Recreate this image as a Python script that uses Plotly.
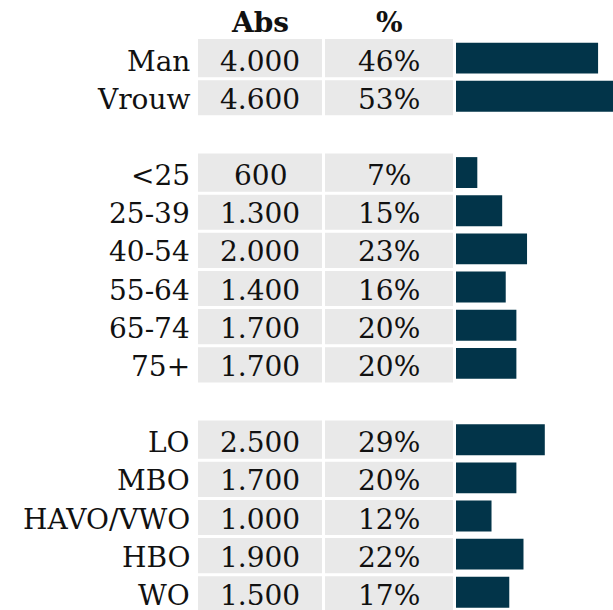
import plotly.graph_objects as go

# --- data -------------------------------------------------------------
gender_labels = ["Man", "Vrouw"]
gender_abs = [4000, 4600]
gender_pct = [46, 53]

age_labels = ["<25", "25-39", "40-54", "55-64", "65-74", "75+"]
age_abs = [600, 1300, 2000, 1400, 1700, 1700]
age_pct = [7, 15, 23, 16, 20, 20]

edu_labels = ["LO", "MBO", "HAVO/VWO", "HBO", "WO"]
edu_abs = [2500, 1700, 1000, 1900, 1500]
edu_pct = [29, 20, 12, 22, 17]

column_titles = ["Abs", "%"]

# --- layout constants -------------------------------------------------
W, H = 613, 610
TOP = 39               # header band above the first row
ROW_PX = 38.16         # height of one row slot
GAP = 3 / ROW_PX       # white line between cells of a group
FONT = "DejaVu Serif"
FSIZE = 28
GREY = "#e9e9e9"
NAVY = "#023449"
TEXT = "#111111"

label_right = 192 / W
abs_dom = [198 / W, 322 / W]
pct_dom = [325 / W, 453 / W]
bar_dom = [456 / W, 1.0]
bar_max = 4420

# --- build rows: one slot per category, one empty slot between groups ---
groups = [
    (gender_labels, gender_abs, gender_pct),
    (age_labels, age_abs, age_pct),
    (edu_labels, edu_abs, edu_pct),
]
ys, labels, abs_vals, pct_vals, offsets, widths = [], [], [], [], [], []
slot = 0
for g_labels, g_abs, g_pct in groups:
    for i, (lab, a, p) in enumerate(zip(g_labels, g_abs, g_pct)):
        ys.append(slot)
        labels.append(lab)
        abs_vals.append(a)
        pct_vals.append(p)
        top_gap = 0 if i == 0 else GAP
        offsets.append(-0.5 + top_gap)
        widths.append(1 - top_gap)
        slot += 1
    slot += 1

plot_h = H - TOP
y_bottom = -0.5 + plot_h / ROW_PX


def fmt_abs(v):
    return f"{v:,}".replace(",", ".")


fig = go.Figure()

# grey cell backgrounds for the two value columns
for xa in ("x", "x2"):
    fig.add_trace(go.Bar(
        orientation="h", y=ys, x=[1] * len(ys), xaxis=xa, yaxis="y",
        marker=dict(color=GREY, line=dict(width=0)),
        offset=offsets, width=widths, hoverinfo="skip", showlegend=False,
    ))

# horizontal bars
fig.add_trace(go.Bar(
    orientation="h", y=ys, x=abs_vals, xaxis="x3", yaxis="y",
    marker=dict(color=NAVY, line=dict(width=0)),
    width=0.81, hoverinfo="skip", showlegend=False,
))

annotations = []
font = dict(family=FONT, size=FSIZE, color=TEXT)
abs_c = sum(abs_dom) / 2
pct_c = sum(pct_dom) / 2
YSHIFT = -3

for y, lab, a, p in zip(ys, labels, abs_vals, pct_vals):
    annotations.append(dict(x=label_right, y=y, xref="paper", yref="y",
                            text=lab, xanchor="right", yanchor="middle",
                            showarrow=False, font=font, yshift=YSHIFT))
    annotations.append(dict(x=abs_c, y=y, xref="paper", yref="y",
                            text=fmt_abs(a), xanchor="center", yanchor="middle",
                            showarrow=False, font=font, yshift=YSHIFT))
    annotations.append(dict(x=pct_c, y=y, xref="paper", yref="y",
                            text=f"{p}%", xanchor="center", yanchor="middle",
                            showarrow=False, font=font, yshift=YSHIFT))

# column headers sit one row-slot above the first row, in the top margin
header_y = 1 + (ROW_PX - 0.5 * ROW_PX + (TOP - ROW_PX * 0.5 - 0.1)) / plot_h
header_y = 1 + (TOP - (TOP + 0.5 * ROW_PX - ROW_PX)) / plot_h
for title, cx in zip(column_titles, (abs_c, pct_c)):
    annotations.append(dict(x=cx, y=header_y, xref="paper", yref="paper",
                            text=f"<b>{title}</b>", xanchor="center",
                            yanchor="middle", showarrow=False, font=font,
                            yshift=YSHIFT))

hidden = dict(showgrid=False, zeroline=False, showticklabels=False,
              showline=False, ticks="", fixedrange=True)

fig.update_layout(
    width=W, height=H,
    margin=dict(l=0, r=0, t=TOP, b=0, pad=0),
    paper_bgcolor="white", plot_bgcolor="white",
    barmode="overlay",
    showlegend=False,
    xaxis=dict(domain=abs_dom, range=[0, 1], **hidden),
    xaxis2=dict(domain=pct_dom, range=[0, 1], anchor="y", **hidden),
    xaxis3=dict(domain=bar_dom, range=[0, bar_max], anchor="y", **hidden),
    yaxis=dict(range=[y_bottom, -0.5], **hidden),
    annotations=annotations,
)

fig.write_html("out.html", config={"displayModeBar": False})
